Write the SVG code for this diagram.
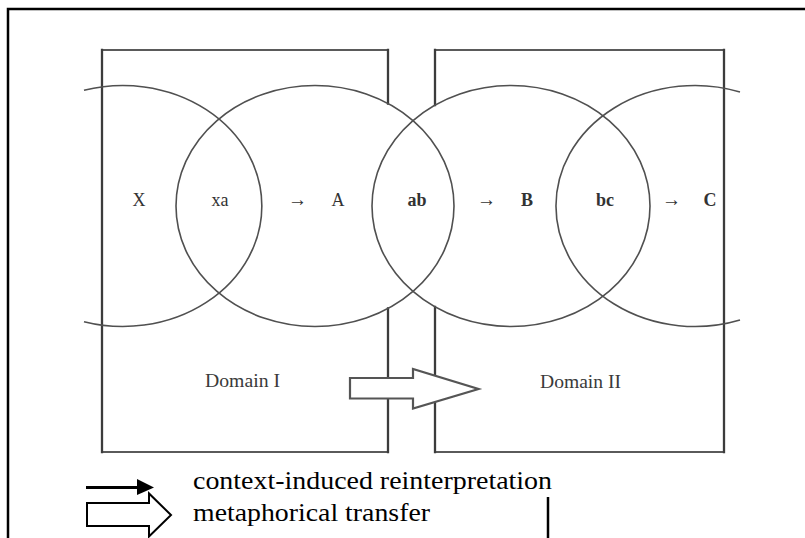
<svg xmlns="http://www.w3.org/2000/svg" width="805" height="538" viewBox="0 0 805 538">
  <style>
    .frame { fill: none; stroke: #000; stroke-width: 2.5; }
    .edge { fill: none; stroke: #3c3c3c; stroke-width: 2.3; stroke-linecap: square; }
    .rim { fill: none; stroke: #5a5a5a; stroke-width: 1.8; }
    .ring { fill: none; stroke: #505050; stroke-width: 1.6; }
    .lbl { font-family: "Liberation Serif", "Times New Roman", serif; font-size: 18px; fill: #333; text-anchor: middle; }
    .bold { font-weight: bold; }
    .arr { font-family: "Liberation Serif", "DejaVu Serif", serif; font-size: 20px; fill: #333; }
    .dom { font-family: "Liberation Serif", "Times New Roman", serif; font-size: 18px; fill: #3a3a3a; }
    .leg { font-family: "Liberation Serif", "Times New Roman", serif; font-size: 26px; fill: #000; }
  </style>

  <!-- outer frame (open at right and bottom) -->
  <path class="frame" d="M8 538 V9 H805"/>
  <path class="frame" d="M548 497 V538" stroke-width="1.8"/>

  <!-- Domain I box: right edge hidden where it passes inside circle A -->
  <g id="domain-1">
    <path class="rim" d="M102 50 H388 M102 452 H388"/>
    <path class="edge" d="M102 50 V452 M388 50 V103.5 M388 308.5 V452"/>
    <text class="dom" x="205" y="387" textLength="75" lengthAdjust="spacingAndGlyphs">Domain I</text>
  </g>

  <!-- Domain II box: left edge hidden where it passes inside circle B -->
  <g id="domain-2">
    <path class="rim" d="M435 50 H724 M435 452 H724"/>
    <path class="edge" d="M435 50 V105 M435 307 V452 M724 50 V452"/>
    <text class="dom" x="540" y="388" textLength="81" lengthAdjust="spacingAndGlyphs">Domain II</text>
  </g>

  <!-- overlapping meaning circles -->
  <g id="circle-x">
    <path class="ring" d="M84 90.3 A139 120.5 0 1 1 84 321.7"/>
    <text class="lbl" x="139" y="206">X</text>
  </g>
  <g id="circle-a">
    <ellipse class="ring" cx="315" cy="206" rx="139" ry="120.5"/>
    <text class="lbl" x="220" y="206">xa</text>
    <text class="lbl" x="338" y="206">A</text>
  </g>
  <g id="circle-b">
    <ellipse class="ring" cx="511" cy="206" rx="139" ry="120.5"/>
    <text class="lbl bold" x="417" y="206">ab</text>
    <text class="lbl bold" x="527" y="206">B</text>
  </g>
  <g id="circle-c">
    <path class="ring" d="M740 92 A139 120.5 0 1 0 740 320"/>
    <text class="lbl bold" x="605" y="206">bc</text>
    <text class="lbl bold" x="710" y="206">C</text>
  </g>

  <!-- connectors: reinterpretation steps and the metaphorical transfer -->
  <g id="connectors">
    <text class="arr" x="288" y="206" textLength="19" lengthAdjust="spacingAndGlyphs">→</text>
    <text class="arr" x="477" y="206" textLength="19" lengthAdjust="spacingAndGlyphs">→</text>
    <text class="arr" x="662" y="206" textLength="19" lengthAdjust="spacingAndGlyphs">→</text>
    <path id="transfer" d="M350 378 H413 V369 L478.5 389 L413 408.5 V398.5 H350 Z" fill="#fff" stroke="#555" stroke-width="2.2" stroke-linejoin="miter"/>
  </g>

  <!-- legend -->
  <g id="legend">
    <path d="M86 487.5 H140" stroke="#000" stroke-width="3"/>
    <path d="M137 479 L154 487.5 L137 495 Z" fill="#000"/>
    <path d="M87 503 H149 V493.5 L171 515 L149 536.5 V526 H87 Z" fill="#fff" stroke="#000" stroke-width="2"/>
    <text class="leg" x="193" y="489" textLength="359" lengthAdjust="spacingAndGlyphs">context-induced reinterpretation</text>
    <text class="leg" x="193" y="521" textLength="237" lengthAdjust="spacingAndGlyphs">metaphorical transfer</text>
  </g>
</svg>
